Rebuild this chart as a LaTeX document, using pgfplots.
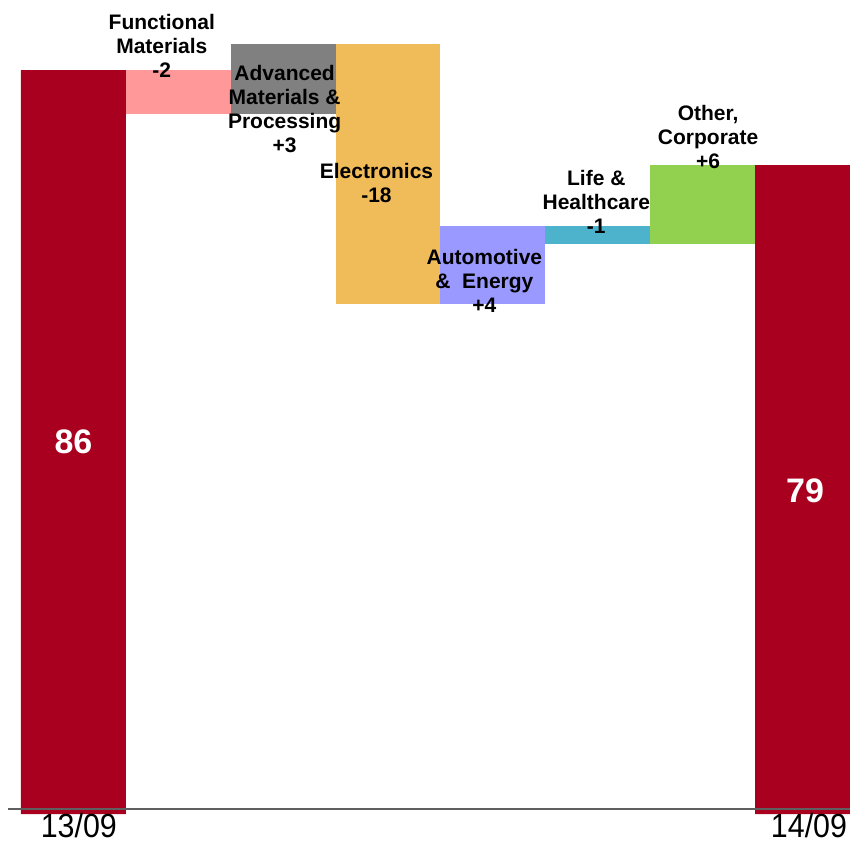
\documentclass[border=0pt]{standalone}
\usepackage{fontspec}
\setmainfont{Liberation Sans}
\usepackage{graphicx}
\usepackage{pgfplots}
\usepackage{pgfplotstable}
\pgfplotsset{compat=1.18}
\definecolor{tot}{HTML}{A8001E}
\definecolor{fmc}{HTML}{FF9999}
\definecolor{advc}{HTML}{808080}
\definecolor{elc}{HTML}{F0BC5A}
\definecolor{autc}{HTML}{9999FF}
\definecolor{lifc}{HTML}{4DB3CC}
\definecolor{othc}{HTML}{92D050}
\definecolor{basec}{HTML}{5F5F5F}
\pgfplotstableread{
x base tot fm adv elec auto life other
0 31.17 54.83 0 0 0 0 0 0
1 82.76 0 3.24 0 0 0 0 0
2 82.76 0 0 5.16 0 0 0 0
3 68.78 0 0 0 19.14 0 0 0
4 68.78 0 0 0 0 5.72 0 0
5 73.18 0 0 0 0 0 1.32 0
6 73.18 0 0 0 0 0 0 5.82
7 31.17 47.83 0 0 0 0 0 0
}\data
\begin{document}
\begin{tikzpicture}
\begin{axis}[
  width=425pt, height=421.5pt, scale only axis,
  xmin=-0.7, xmax=7.405, ymin=29.04, ymax=91.16,
  axis lines=none, clip=true,
  ybar stacked, bar width=1,
]
\addplot[draw=none, fill=none] table[x=x, y=base]{\data};
\addplot[draw=none, fill=tot] table[x=x, y=tot]{\data};
\addplot[draw=none, fill=fmc] table[x=x, y=fm]{\data};
\addplot[draw=none, fill=advc] table[x=x, y=adv]{\data};
\addplot[draw=none, fill=elc] table[x=x, y=elec]{\data};
\addplot[draw=none, fill=autc] table[x=x, y=auto]{\data};
\addplot[draw=none, fill=lifc] table[x=x, y=life]{\data};
\addplot[draw=none, fill=othc] table[x=x, y=other]{\data};
\coordinate (bl0) at (axis cs:-0.624,31.54);
\coordinate (bl1) at (axis cs:7.405,31.54);
\coordinate (lfm) at (axis cs:0.843,87.77);
\coordinate (ladv) at (axis cs:2.014,83.13);
\coordinate (lel) at (axis cs:2.890,77.67);
\coordinate (lau) at (axis cs:3.919,70.45);
\coordinate (lli) at (axis cs:4.986,76.27);
\coordinate (lot) at (axis cs:6.052,81.06);
\coordinate (n86) at (axis cs:0,58.59);
\coordinate (n79) at (axis cs:6.976,54.98);
\coordinate (d13) at (axis cs:0.052,30.36);
\coordinate (d14) at (axis cs:7.014,30.36);
\end{axis}
\path[use as bounding box] (current axis.south west) rectangle (current axis.north east);
\draw[basec, line width=1pt] (bl0) -- (bl1);
\tikzset{lab/.style={font=\bfseries\fontsize{10.5}{12}\selectfont, align=center, inner sep=0pt}}
\node[lab] at (lfm) {Functional\\Materials\\-2};
\node[lab] at (ladv) {Advanced\\Materials \&\\Processing\\+3};
\node[lab] at (lel) {Electronics\\-18};
\node[lab] at (lau) {Automotive\\\&~ Energy\\+4};
\node[lab] at (lli) {Life \&\\Healthcare\\-1};
\node[lab] at (lot) {Other,\\Corporate\\+6};
\node[text=white, font=\bfseries\fontsize{17}{20}\selectfont] at (n86) {86};
\node[text=white, font=\bfseries\fontsize{17}{20}\selectfont] at (n79) {79};
\node[font=\fontsize{15.2}{18}\selectfont, inner sep=0pt] at (d13) {\scalebox{1}[1.1]{13/09}};
\node[font=\fontsize{15.2}{18}\selectfont, inner sep=0pt] at (d14) {\scalebox{1}[1.1]{14/09}};
\end{tikzpicture}
\end{document}
